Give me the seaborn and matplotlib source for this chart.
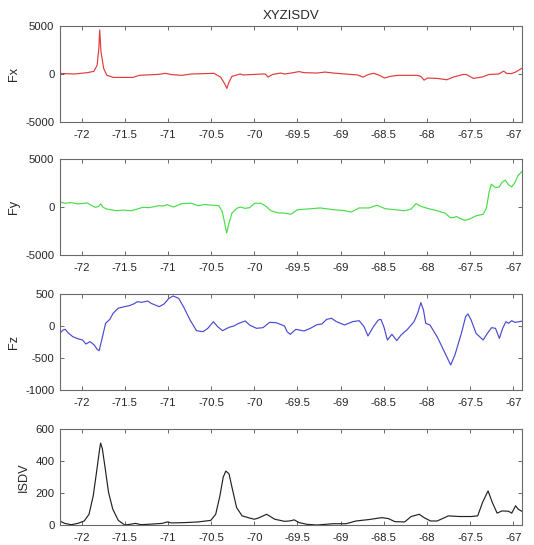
import numpy as np
import pandas as pd
import matplotlib
matplotlib.use("Agg")
import matplotlib.pyplot as plt
import seaborn as sns

# ---------------- data ----------------
fx_x = [-72.252, -72.083, -71.932, -71.857, -71.820, -71.800, -71.790, -71.776, -71.744,
        -71.707, -71.632, -71.406, -71.331, -71.180, -71.105, -71.030, -70.955, -70.842,
        -70.729, -70.466, -70.391, -70.342, -70.318, -70.293, -70.259, -70.165, -70.128,
        -69.902, -69.872, -69.842, -69.789, -69.695, -69.650, -69.575, -69.481, -69.425,
        -69.274, -69.180, -69.086, -68.898, -68.805, -68.741, -68.673, -68.617, -68.560,
        -68.492, -68.429, -68.335, -68.222, -68.109, -68.071, -68.034, -67.996, -67.883,
        -67.771, -67.695, -67.583, -67.545, -67.462, -67.357, -67.282, -67.169, -67.113,
        -67.075, -67.019, -66.974, -66.900]
fx_y = [60, 0, 140, 280, 920, 2700, 4600, 2340, 570,
        -140, -355, -355, -140, -70, -35, 70, -70, -140,
        0, 70, -320, -1030, -1500, -850, -250, 0, -100,
        0, 0, -320, -50, 100, 0, 100, 250, 140,
        100, 200, 100, -35, -100, -320, -35, 70, -100,
        -420, -250, -140, -140, -140, -250, -640, -420, -460,
        -600, -320, -50, -50, -460, -300, -50, 0, 300,
        50, 50, 200, 600]

fy_x = [-72.252, -72.196, -72.120, -72.045, -71.932, -71.876, -71.838, -71.801, -71.778,
        -71.752, -71.707, -71.594, -71.519, -71.425, -71.368, -71.293, -71.218, -71.105,
        -71.049, -71.011, -70.936, -70.842, -70.729, -70.654, -70.579, -70.410, -70.372,
        -70.346, -70.320, -70.293, -70.259, -70.203, -70.158, -70.109, -70.053, -69.996,
        -69.921, -69.865, -69.808, -69.733, -69.650, -69.575, -69.500, -69.387, -69.237,
        -69.086, -68.974, -68.880, -68.786, -68.673, -68.579, -68.485, -68.372, -68.259,
        -68.184, -68.128, -68.071, -67.996, -67.883, -67.790, -67.733, -67.695, -67.658,
        -67.620, -67.564, -67.507, -67.432, -67.349, -67.312, -67.282, -67.256, -67.207,
        -67.162, -67.132, -67.094, -67.056, -67.019, -66.981, -66.944, -66.900]
fy_y = [530, 390, 460, 320, 420, 100, -35, 70, 320,
        -35, -210, -390, -320, -390, -250, -35, -70, 140,
        100, 250, 0, 350, 390, 140, 250, 140, -460,
        -1530, -2700, -1700, -640, -140, 0, -140, -70, 390,
        390, 70, -390, -600, -640, -750, -280, -210, -100,
        -280, -350, -530, -100, -100, 180, -180, -280, -390,
        -210, 350, 70, -140, -390, -640, -1100, -1100, -1000,
        -1170, -1390, -1250, -920, -750, -100, 1490, 2380, 2020,
        2100, 2560, 2800, 2310, 2100, 2560, 3300, 3700]

fz_x = [-72.252, -72.214, -72.188, -72.158, -72.102, -72.045, -71.989, -71.951, -71.902,
        -71.853, -71.820, -71.797, -71.767, -71.722, -71.673, -71.635, -71.579, -71.504,
        -71.447, -71.398, -71.353, -71.308, -71.233, -71.195, -71.101, -71.045, -70.989,
        -70.940, -70.876, -70.820, -70.744, -70.669, -70.594, -70.538, -70.474, -70.425,
        -70.368, -70.293, -70.237, -70.180, -70.105, -70.049, -69.974, -69.899, -69.823,
        -69.748, -69.650, -69.620, -69.583, -69.519, -69.425, -69.350, -69.274, -69.218,
        -69.162, -69.105, -69.049, -68.955, -68.861, -68.786, -68.729, -68.684, -68.620,
        -68.564, -68.534, -68.500, -68.459, -68.406, -68.350, -68.301, -68.226, -68.150,
        -68.109, -68.071, -68.041, -68.015, -67.966, -67.883, -67.790, -67.726, -67.677,
        -67.602, -67.553, -67.526, -67.489, -67.432, -67.350, -67.301, -67.252, -67.207,
        -67.162, -67.124, -67.086, -67.056, -67.019, -66.981, -66.900]
fz_y = [-115, -62, -52, -104, -167, -198, -219, -281, -245,
        -297, -365, -385, -219, 42, 104, 198, 276, 302,
        318, 344, 380, 370, 390, 354, 302, 344, 432,
        469, 432, 302, 94, -73, -89, -36, 68, -10,
        -73, -21, 0, 42, 78, 10, -36, -26, 57,
        52, 0, -89, -130, -52, -78, -36, 21, 31,
        104, 120, 68, 16, 68, 83, -10, -156, -10,
        94, 104, -10, -219, -130, -229, -141, -52, 68,
        198, 365, 250, 42, 16, -167, -427, -609, -453,
        -115, 146, 188, 94, -115, -219, -115, -26, -36,
        -193, -36, 68, 42, 83, 57, 75]

isdv_x = [-72.252, -72.195, -72.120, -72.045, -71.970, -71.914, -71.865, -71.827, -71.793,
          -71.780, -71.760, -71.726, -71.688, -71.639, -71.575, -71.500, -71.444, -71.376,
          -71.312, -71.180, -71.068, -71.011, -70.955, -70.805, -70.654, -70.504, -70.447,
          -70.398, -70.360, -70.330, -70.293, -70.254, -70.205, -70.141, -70.045, -70.000,
          -69.951, -69.857, -69.763, -69.650, -69.594, -69.537, -69.481, -69.387, -69.274,
          -69.086, -68.936, -68.823, -68.673, -68.523, -68.447, -68.372, -68.259, -68.184,
          -68.090, -68.034, -67.959, -67.883, -67.752, -67.620, -67.488, -67.413, -67.357,
          -67.293, -67.244, -67.188, -67.132, -67.056, -67.019, -66.974, -66.944, -66.900]
isdv_y = [25, 10, 2, 10, 25, 67, 183, 330, 467,
          512, 478, 351, 204, 99, 29, 0, 4, 10,
          2, 6, 10, 19, 13, 15, 19, 29, 67,
          183, 299, 337, 320, 225, 109, 57, 42, 36,
          44, 67, 36, 23, 25, 32, 15, 4, 0,
          8, 8, 25, 34, 46, 40, 21, 19, 53,
          67, 46, 25, 25, 57, 53, 53, 57, 141,
          213, 141, 74, 88, 86, 74, 120, 99, 85]

panel_labels = ["Fx", "Fy", "Fz", "ISDV"]
panel_colors = ["#e23a3a", "#48dd48", "#4a4ad2", "#222222"]
y_ticks = [[-5000, 0, 5000], [-5000, 0, 5000], [-1000, -500, 0, 500], [0, 200, 400, 600]]
x_ticks = [-72, -71.5, -71, -70.5, -70, -69.5, -69, -68.5, -68, -67.5, -67]
x_tick_labels = ["-72", "-71.5", "-71", "-70.5", "-70", "-69.5", "-69", "-68.5", "-68", "-67.5", "-67"]
title = "XYZISDV"

series = [(fx_x, fx_y), (fy_x, fy_y), (fz_x, fz_y), (isdv_x, isdv_y)]

# ---------------- plotting ----------------
sns.set_style("white")
plt.rcParams["font.family"] = ["Liberation Sans", "DejaVu Sans"]
plt.rcParams["font.size"] = 8.2

fig = plt.figure(figsize=(5.34, 5.45), dpi=100)
W, H = 534, 545
tops = [26, 159, 294, 429]
ax_h = 96
left, right = 60, 522

axes = []
for i, (xs, ys) in enumerate(series):
    top = tops[i]
    ax = fig.add_axes([left / W, 1 - (top + ax_h) / H, (right - left) / W, ax_h / H])
    df = pd.DataFrame({"x": xs, "y": ys})
    sns.lineplot(data=df, x="x", y="y", ax=ax, color=panel_colors[i], lw=0.85,
                 sort=False, estimator=None)
    ax.set_xlim(-72.25, -66.90)
    ax.set_ylim(y_ticks[i][0], y_ticks[i][-1])
    ax.set_yticks(y_ticks[i])
    ax.set_yticklabels([str(v) for v in y_ticks[i]])
    ax.set_xticks(x_ticks)
    ax.set_xticklabels(x_tick_labels)
    ax.set_xlabel("")
    ax.set_ylabel(panel_labels[i], fontsize=9.2, color="#262626", labelpad=4)
    for sp in ax.spines.values():
        sp.set_visible(True)
        sp.set_color("#6a6a6a")
        sp.set_linewidth(0.8)
    ax.tick_params(axis="both", direction="in", length=3.2, width=0.7, color="#6a6a6a",
                   labelcolor="#262626", labelsize=8.2, top=True, right=True,
                   bottom=True, left=True)
    ax.tick_params(axis="x", pad=6)
    ax.tick_params(axis="y", pad=4)
    axes.append(ax)

axes[0].set_title(title, fontsize=9.5, color="#262626", pad=5)

fig.savefig("out.png", dpi=100)
